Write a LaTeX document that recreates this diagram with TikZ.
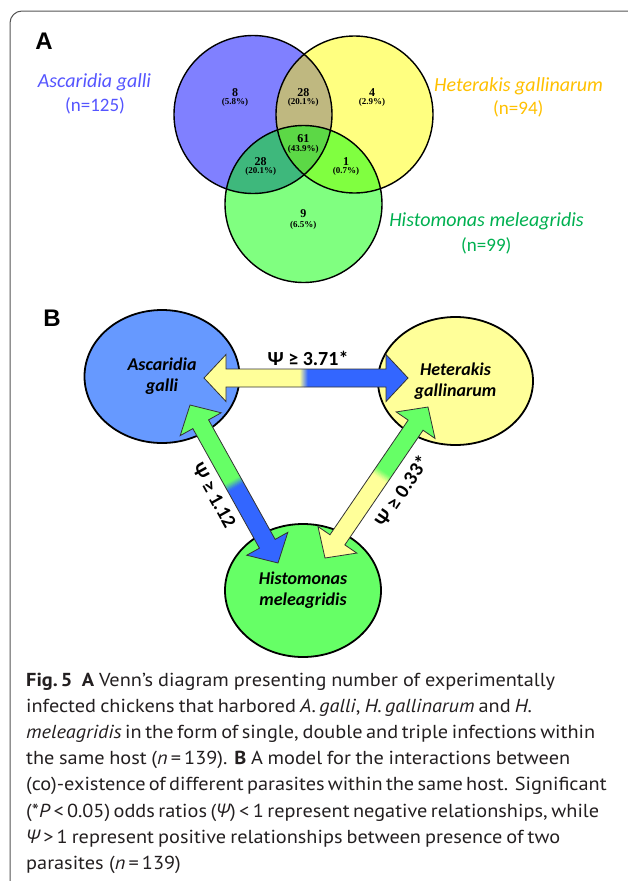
\documentclass[tikz,border=0pt]{standalone}
\usepackage{fontspec}
\setmainfont{Carlito}
\newfontfamily\capfont[FakeStretch=1.08]{PT Sans}
\newfontfamily\greekfont{Open Sans}
\newfontfamily\numfont{Liberation Serif}
\newfontfamily\panelfont{Liberation Sans}
\usetikzlibrary{positioning,shapes.geometric}

\definecolor{vblue}{HTML}{8080FF}
\definecolor{vyellow}{HTML}{FFFF80}
\definecolor{vgreen}{HTML}{80FF80}
\definecolor{vby}{HTML}{BFB880}
\definecolor{vbg}{HTML}{3EB87C}
\definecolor{vyg}{HTML}{80FF40}
\definecolor{vall}{HTML}{5CD846}
\definecolor{txtblue}{HTML}{5555FF}
\definecolor{txtgold}{HTML}{FFC000}
\definecolor{txtgreen}{HTML}{00B050}
\definecolor{hostblue}{HTML}{6699FF}
\definecolor{hostyellow}{HTML}{FFFF99}
\definecolor{hostgreen}{HTML}{66FF66}
\definecolor{arrblue}{HTML}{3366FF}
\definecolor{arryellow}{HTML}{FFFF99}
\definecolor{arrgreen}{HTML}{66FF66}
\definecolor{arrgray}{HTML}{333333}
\definecolor{framegray}{HTML}{555555}
\definecolor{captext}{HTML}{231F20}

% block arrow with a head at both ends, coloured half and half
\def\arrhead{22}
\def\arrwing{23.5}
\def\arrhalf{9}
\makeatletter
\newcommand{\dualarrow}[5]{%
  \pgfpointdiff{\pgfpointanchor{#1}{center}}{\pgfpointanchor{#2}{center}}%
  \edef\arrdx{\strip@pt\pgf@x}\edef\arrdy{\strip@pt\pgf@y}%
  \pgfmathsetmacro\arrlen{veclen(\arrdx,\arrdy)}%
  \pgfmathsetmacro\arrang{atan2(\arrdy,\arrdx)}%
  \pgfmathsetmacro\arrcut{#5*\arrlen}%
  \pgfmathsetmacro\arrback{\arrlen-\arrhead}%
  \begin{scope}[shift={(#1)}, rotate=\arrang]
    \fill[#3] (0,0) -- (\arrhead,\arrwing) -- (\arrhead,\arrhalf) -- (\arrcut,\arrhalf)
      -- (\arrcut,-\arrhalf) -- (\arrhead,-\arrhalf) -- (\arrhead,-\arrwing) -- cycle;
    \fill[#4] (\arrlen,0) -- (\arrback,\arrwing) -- (\arrback,\arrhalf) -- (\arrcut,\arrhalf)
      -- (\arrcut,-\arrhalf) -- (\arrback,-\arrhalf) -- (\arrback,-\arrwing) -- cycle;
    \foreach \k in {0,...,7} {
      \pgfmathsetmacro\kmix{100-12.5*\k-6.25}
      \fill[#3!\kmix!#4] ({\arrcut-4+\k},-\arrhalf) rectangle ++(1.2,18);
    }
    \draw[arrline] (0,0) -- (\arrhead,\arrwing) -- (\arrhead,\arrhalf) -- (\arrback,\arrhalf)
      -- (\arrback,\arrwing) -- (\arrlen,0) -- (\arrback,-\arrwing) -- (\arrback,-\arrhalf)
      -- (\arrhead,-\arrhalf) -- (\arrhead,-\arrwing) -- cycle;
  \end{scope}}
\makeatother

% one caption line, set out to the width it has in print
\newcommand{\capbox}[2]{\hbox to #1{\spaceskip=\fontdimen2\font plus 1.5\fontdimen2\font minus 0.4\fontdimen2\font\relax #2}}

\begin{document}
\begin{tikzpicture}[x=1pt, y=-1pt,
    host/.style={ellipse, draw=black, line width=1.8pt, inner sep=0pt, align=center,
      font=\bfseries\itshape\fontsize{18}{21}\selectfont},
    psi/.style={inner sep=0pt, font=\bfseries\fontsize{20}{24}\selectfont},
    vnum/.style={inner sep=0pt, font=\numfont\bfseries\fontsize{12}{12}\selectfont},
    vpct/.style={inner sep=0pt, font=\numfont\bfseries\fontsize{9}{9}\selectfont},
    vname/.style={inner sep=0pt, anchor=base, font=\itshape\fontsize{20}{22}\selectfont},
    vcount/.style={inner sep=0pt, anchor=base, font=\fontsize{19}{22}\selectfont},
    panel/.style={inner sep=0pt, font=\panelfont\bfseries\fontsize{24}{24}\selectfont},
    capline/.style={inner sep=0pt, anchor=base west, text=captext,
      font=\capfont\fontsize{18.8}{26}\selectfont},
    venn/.style={draw=black, line width=1.4pt},
    arrline/.style={draw=arrgray, line width=0.8pt}]
  \useasboundingbox (0,0) rectangle (627,881);

  % frame
  \draw[framegray, line width=1pt, rounded corners=12pt] (10,885) -- (10,11) -- (632,11);

  % panel A: Venn diagram
  \def\circA{(253,114.5) circle[radius=79pt]}
  \def\circH{(354.5,114.5) circle[radius=78.5pt]}
  \def\circM{(303.5,204) circle[radius=78.5pt]}
  \fill[vblue] \circA;
  \fill[vyellow] \circH;
  \fill[vgreen] \circM;
  \begin{scope}
    \clip \circA;
    \fill[vby] \circH;
    \fill[vbg] \circM;
  \end{scope}
  \begin{scope}
    \clip \circH;
    \fill[vyg] \circM;
  \end{scope}
  \begin{scope}
    \clip \circA;
    \clip \circH;
    \fill[vall] \circM;
  \end{scope}
  \draw[venn] \circA;
  \draw[venn] \circH;
  \draw[venn] \circM;

  \node[panel] (lblA) at (44,41) {A};

  \node[vnum] (nA) at (235,93) {8};
  \node[vpct] (pA) at (235,102.7) {(5.8\%)};
  \node[vnum] (nAH) at (303.3,93) {28};
  \node[vpct] (pAH) at (303.3,102.7) {(20.1\%)};
  \node[vnum] (nH) at (372,93) {4};
  \node[vpct] (pH) at (372,102.7) {(2.9\%)};
  \node[vnum] (nAHM) at (303.3,138.3) {61};
  \node[vpct] (pAHM) at (303.3,149) {(43.9\%)};
  \node[vnum] (nAM) at (260.7,161.7) {28};
  \node[vpct] (pAM) at (260.7,171.7) {(20.1\%)};
  \node[vnum] (nHM) at (346,161.7) {1};
  \node[vpct] (pHM) at (346,171.7) {(0.7\%)};
  \node[vnum] (nM) at (303.3,214) {9};
  \node[vpct] (pM) at (303.3,225) {(6.5\%)};

  \node[vname, text=txtblue] (agName) at (94.5,87) {Ascaridia galli};
  \node[vcount, text=txtblue] (agCount) at (95,111.7) {(n=125)};
  \node[vname, text=txtgold] (hgName) at (518.6,91.7) {Heterakis gallinarum};
  \node[vcount, text=txtgold] (hgCount) at (518.3,114.3) {(n=94)};
  \node[vname, text=txtgreen] (hmName) at (486.5,226.7) {Histomonas meleagridis};
  \node[vcount, text=txtgreen] (hmCount) at (486.3,251.7) {(n=99)};

  % panel B: interaction model
  \node[panel] (lblB) at (52,318) {B};

  \node[host, fill=hostblue, minimum width=155pt, minimum height=133pt] (asc) at (162,376.5) {Ascaridia\\galli};
  \node[host, fill=hostyellow, minimum width=155pt, minimum height=128pt] (het) at (455.5,381) {Heterakis\\gallinarum};
  \node[host, fill=hostgreen, minimum width=156pt, minimum height=133pt] (his) at (303,590.5) {Histomonas\\meleagridis};

  \coordinate (ah1) at ([shift={(42,1.5)}]asc.center);
  \coordinate (ah2) at ([shift={(-47.5,-3)}]het.center);
  \coordinate (am1) at ([shift={(28,28.5)}]asc.center);
  \coordinate (am2) at ([shift={(-25,-27.5)}]his.center);
  \coordinate (hm1) at ([shift={(-27.5,26)}]het.center);
  \coordinate (hm2) at ([shift={(22,-32.5)}]his.center);

  \dualarrow{ah1}{ah2}{arryellow}{arrblue}{0.49}
  \dualarrow{am1}{am2}{arrgreen}{arrblue}{0.5}
  \dualarrow{hm1}{hm2}{arrgreen}{arryellow}{0.45}

  \path (ah1) -- (ah2) node[psi, pos=0.51, above=12pt, sloped] (psiAH) {Ψ ≥ 3.71*};
  \path (am1) -- (am2) node[psi, pos=0.5, below=16pt, sloped] (psiAM) {Ψ ≥ 1.12};
  \path (hm2) -- (hm1) node[psi, pos=0.54, below=18pt, sloped] (psiHM) {Ψ ≥ 0.33*};

  % caption
  \node[capline] (cap1) at (26,686) {\capbox{529pt}{{\bfseries Fig.\,5\enspace A} Venn’s diagram presenting number of experimentally}};
  \node[capline] (cap2) at (26,712) {\capbox{506pt}{infected chickens that harbored \textit{A.\,galli}, \textit{H.\,gallinarum} and \textit{H.}}};
  \node[capline] (cap3) at (26,738) {\capbox{569pt}{\textit{meleagridis} in the form of single, double and triple infections within}};
  \node[capline] (cap4) at (26,764) {\capbox{544pt}{the same host (\textit{n}\,=\,139). \textbf{B} A model for the interactions between}};
  \node[capline] (cap5) at (26,790.5) {\capbox{578pt}{(co)-existence of different parasites within the same host. Significant}};
  \node[capline] (cap6) at (26,817) {\capbox{573pt}{(*\textit{P}\,<\,0.05) odds ratios ({\greekfont\itshape Ψ}) < 1 represent negative relationships, while}};
  \node[capline] (cap7) at (26,843) {\capbox{534pt}{{\greekfont\itshape Ψ}\,>\,1 represent positive relationships between presence of two}};
  \node[capline] (cap8) at (26,869.5) {parasites (\textit{n}\,=\,139)};
\end{tikzpicture}
\end{document}
